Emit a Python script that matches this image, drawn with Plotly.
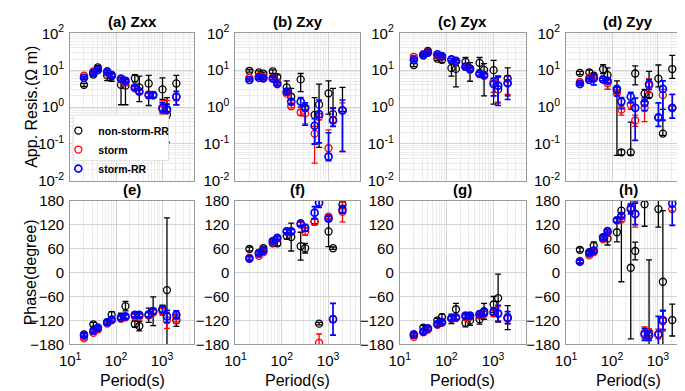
import math
import plotly.graph_objects as go

# ---------------- data ----------------
periods = [20, 32, 40, 64, 80, 128, 160, 256, 320, 512, 640, 1024, 1280, 2048]
series_names = ["non-storm-RR", "storm", "storm-RR"]
series_colors = ["#000000", "#ff0000", "#0000ff"]

# (a) Zxx apparent resistivity
zxx_rho_ns    = [4.0, 7.6, 11.9, 7.2, 6.8, 4.0, 3.8, 6.0, 3.4, 4.35, 2.1, 3.0, 0.62, 4.35]
zxx_rho_ns_lo = [3.6, 6.8, 10.5, 5.2, 5.0, 1.15, 1.15, 4.8, 1.4, 1.1, 1.8, 1.6, 0.5, 1.15]
zxx_rho_ns_hi = [4.4, 8.4, 13.3, 9.2, 8.5, 6.2, 6.2, 7.5, 6.9, 7.2, 2.5, 6.2, 1.8, 7.2]
zxx_rho_st    = [7.1, 9.2, 10.2, 8.5, 7.5, 5.6, 4.6, 3.2, 2.6, 2.2, 2.1, 0.85, 0.8, 1.9]
zxx_rho_st_lo = [6.5, 8.5, 9.4, 7.8, 6.8, 5.1, 4.2, 2.9, 2.3, 1.9, 1.8, 0.62, 0.5, 1.5]
zxx_rho_st_hi = [7.7, 9.9, 11.0, 9.2, 8.2, 6.1, 5.0, 3.5, 2.9, 2.5, 2.4, 1.47, 1.5, 2.3]
zxx_rho_sr    = [6.2, 8.4, 10.2, 9.2, 7.2, 5.9, 5.1, 3.4, 2.65, 2.1, 2.1, 0.95, 0.86, 1.9]
zxx_rho_sr_lo = [5.7, 7.7, 9.4, 8.4, 6.5, 5.4, 4.6, 3.0, 2.3, 1.8, 1.8, 0.7, 0.11, 1.15]
zxx_rho_sr_hi = [6.7, 9.1, 11.0, 10.0, 7.9, 6.4, 5.6, 3.8, 3.0, 2.4, 2.5, 1.3, 1.2, 2.65]

# (b) Zxy apparent resistivity
zxy_rho_ns    = [9.6, 8.7, 8.0, 9.2, 6.5, 3.4, 1.9, 5.6, 0.95, 0.61, 1.16, 2.35, 0.64, 0.81]
zxy_rho_ns_lo = [8.8, 7.9, 7.2, 8.2, 5.6, 2.6, 1.16, 2.6, 0.85, 0.1, 0.08, 0.64, 0.3, 0.75]
zxy_rho_ns_hi = [10.4, 9.5, 8.8, 10.2, 7.4, 5.1, 3.2, 8.1, 1.05, 1.8, 4.2, 5.1, 3.2, 3.4]
zxy_rho_st    = [6.2, 6.9, 6.5, 6.2, 4.6, 2.3, 1.05, 0.71, 0.67, 0.19, 0.55, 0.076, 0.45, 0.81]
zxy_rho_st_lo = [5.7, 6.3, 6.0, 5.7, 4.2, 2.1, 0.95, 0.6, 0.35, 0.03, 0.45, 0.055, 0.38, 0.062]
zxy_rho_st_hi = [6.7, 7.5, 7.0, 6.7, 5.0, 2.5, 1.15, 0.85, 0.86, 0.3, 0.65, 0.24, 0.9, 1.3]
zxy_rho_sr    = [5.4, 6.2, 6.0, 5.9, 4.2, 2.6, 1.4, 1.4, 0.95, 0.31, 0.64, 0.045, 0.43, 0.81]
zxy_rho_sr_lo = [5.0, 5.7, 5.5, 5.4, 3.8, 2.3, 1.2, 1.0, 0.32, 0.098, 0.107, 0.035, 0.3, 0.062]
zxy_rho_sr_hi = [5.8, 6.7, 6.5, 6.4, 4.6, 2.9, 1.6, 1.8, 1.3, 0.48, 1.55, 0.2, 0.95, 1.55]

# (c) Zyx apparent resistivity
zyx_rho_ns    = [13.7, 25, 33, 20.4, 19, 11.3, 10.8, 16.8, 11.2, 15.8, 10.2, 10.0, 3.0, 5.9]
zyx_rho_ns_lo = [12.5, 23, 30, 18.5, 16, 6.9, 3.5, 12, 5.0, 10, 2.0, 1.2, 1.3, 2.0]
zyx_rho_ns_hi = [15, 27, 36, 22, 22, 15, 13.5, 22, 16, 22, 15, 18.5, 7, 11.5]
zyx_rho_st    = [23, 27, 31, 25, 23, 19, 17, 12.2, 10.2, 7.8, 7.0, 4.8, 3.8, 4.6]
zyx_rho_st_lo = [21, 25, 28.5, 23, 21, 17.5, 15.5, 11, 9.3, 7.0, 6.3, 2.5, 1.35, 2.2]
zyx_rho_st_hi = [25, 29, 33.5, 27, 25, 20.5, 18.5, 13.4, 11.1, 8.6, 7.7, 6.0, 6.5, 7.0]
zyx_rho_sr    = [19, 26, 30, 27, 24, 19.5, 17.8, 12.4, 10.8, 8.0, 7.3, 4.2, 3.8, 4.4]
zyx_rho_sr_lo = [17.5, 24, 27.5, 25, 22, 18, 16.3, 11.3, 9.9, 7.2, 6.5, 2.0, 1.1, 1.6]
zyx_rho_sr_hi = [20.5, 28, 32.5, 29, 26, 21, 19.3, 13.5, 11.7, 8.8, 8.1, 6.0, 6.6, 7.0]

# (d) Zyy apparent resistivity
zyy_rho_ns    = [8.4, 8.7, 7.1, 10.6, 7.3, 2.8, 0.059, 0.059, 8.1, 2.3, 2.1, 5.9, 0.19, 10.7]
zyy_rho_ns_lo = [7.6, 7.5, 6.0, 8.0, 3.0, 0.049, 0.05, 0.05, 4.0, 1.4, 1.8, 3.5, 0.17, 6.0]
zyy_rho_ns_hi = [9.2, 10.0, 8.2, 14.0, 11.5, 5.1, 0.07, 0.39, 13.0, 3.0, 9.3, 13.8, 0.86, 25.0]
zyy_rho_st    = [4.7, 6.2, 6.5, 5.6, 4.4, 2.4, 0.85, 1.16, 0.43, 0.95, 3.8, 0.52, 2.1, 0.95]
zyy_rho_st_lo = [4.3, 5.6, 5.9, 5.1, 3.0, 2.1, 0.6, 0.87, 0.3, 0.4, 2.5, 0.45, 0.45, 0.85]
zyy_rho_st_hi = [5.1, 6.8, 7.1, 6.1, 5.4, 2.7, 1.1, 1.4, 0.6, 1.6, 5.8, 0.6, 3.0, 1.05]
zyy_rho_sr    = [4.2, 5.4, 6.0, 5.6, 5.1, 3.1, 1.4, 1.9, 0.95, 1.3, 4.2, 0.52, 3.1, 0.95]
zyy_rho_sr_lo = [3.9, 4.9, 4.0, 5.1, 4.5, 2.0, 0.9, 1.3, 0.125, 0.8, 3.0, 0.3, 0.43, 0.5]
zyy_rho_sr_hi = [4.5, 5.9, 8.0, 6.1, 5.7, 3.5, 1.8, 2.5, 1.75, 1.8, 5.5, 1.3, 5.1, 2.2]

# (e) Zxx phase
zxx_ph_ns    = [-155, -130, -142, -124, -106, -112, -84, -129, -134, -107, -97, -92, -44, -120]
zxx_ph_ns_e  = [4, 5, 5, 5, 8, 10, 12, 8, 12, 18, 36, 10, 181, 15]
zxx_ph_st    = [-165, -151, -142, -128, -120, -116, -112, -110, -110, -107, -100, -97, -120, -116]
zxx_ph_st_e  = [4, 4, 4, 4, 4, 5, 5, 5, 5, 6, 6, 10, 20, 12]
zxx_ph_sr    = [-157, -146, -138, -125, -118, -113, -110, -106, -106, -105, -97, -92, -110, -106]
zxx_ph_sr_e  = [4, 4, 4, 4, 4, 5, 5, 5, 5, 6, 6, 8, 15, 10]

# (f) Zxy phase
zxy_ph_ns    = [59, 49, 61, 73, 73, 92, 89, 66, 61, 128, -128, 103, 61, 170]
zxy_ph_ns_e  = [5, 4, 5, 5, 6, 8, 35, 35, 12, 6, 3, 38, 3, 8]
zxy_ph_st    = [37, 42, 51, 75, 85, 103, 103, 120, 103, 127, -176, 140, -117, 152]
zxy_ph_st_e  = [4, 4, 4, 4, 4, 5, 5, 6, 10, 8, 22, 5, 8, 25]
zxy_ph_sr    = [35, 49, 55, 79, 87, 103, 103, 123, 112, 150, 175, 135, -117, 158]
zxy_ph_sr_e  = [4, 4, 4, 4, 4, 5, 5, 6, 8, 15, 12, 6, 40, 10]

# (g) Zyx phase
zyx_ph_ns    = [-157, -138, -141, -120, -112, -116, -92, -126, -120, -117, -97, -80, -64, -113]
zyx_ph_ns_e  = [4, 5, 5, 5, 8, 12, 15, 10, 12, 12, 20, 20, 60, 30]
zyx_ph_st    = [-161, -150, -143, -131, -126, -116, -114, -112, -110, -108, -104, -102, -104, -116]
zyx_ph_st_e  = [4, 4, 4, 4, 4, 5, 5, 5, 5, 6, 6, 8, 18, 12]
zyx_ph_sr    = [-155, -148, -140, -129, -124, -114, -112, -108, -108, -104, -100, -98, -102, -113]
zyx_ph_sr_e  = [4, 4, 4, 4, 4, 5, 5, 5, 5, 6, 8, 8, 20, 15]

# (h) Zyy phase
zyy_ph_ns    = [57, 51, 67, 89, 85, 101, 155, 12, 54, 171, -150, 159, -23, -119]
zyy_ph_ns_e  = [5, 5, 10, 5, 16, 24, 178, 178, 22, 55, 182, 45, 178, 40]
zyy_ph_st    = [29, 43, 51, 83, 99, 131, 133, 163, 146, -151, -151, -154, -122, 159]
zyy_ph_st_e  = [4, 4, 4, 4, 4, 5, 5, 10, 32, 15, 10, 12, 25, 5]
zyy_ph_sr    = [27, 49, 55, 87, 104, 131, 142, 159, 147, -155, -158, -155, -119, 173]
zyy_ph_sr_e  = [4, 4, 4, 4, 4, 5, 5, 12, 27, 15, 12, 45, 24, 55]

top_titles = ["(a) Zxx", "(b) Zxy", "(c) Zyx", "(d) Zyy"]
bottom_titles = ["(e)", "(f)", "(g)", "(h)"]
x_tickvals = [10, 100, 1000]
x_ticktext = ["10<sup>1</sup>", "10<sup>2</sup>", "10<sup>3</sup>"]
rho_tickvals = [0.01, 0.1, 1, 10, 100]
rho_ticktext = ["10<sup>-2</sup>", "10<sup>-1</sup>", "10<sup>0</sup>", "10<sup>1</sup>", "10<sup>2</sup>"]
ph_tickvals = [-180, -120, -60, 0, 60, 120, 180]

rho_panels = [
    [(zxx_rho_ns, zxx_rho_ns_lo, zxx_rho_ns_hi), (zxx_rho_st, zxx_rho_st_lo, zxx_rho_st_hi), (zxx_rho_sr, zxx_rho_sr_lo, zxx_rho_sr_hi)],
    [(zxy_rho_ns, zxy_rho_ns_lo, zxy_rho_ns_hi), (zxy_rho_st, zxy_rho_st_lo, zxy_rho_st_hi), (zxy_rho_sr, zxy_rho_sr_lo, zxy_rho_sr_hi)],
    [(zyx_rho_ns, zyx_rho_ns_lo, zyx_rho_ns_hi), (zyx_rho_st, zyx_rho_st_lo, zyx_rho_st_hi), (zyx_rho_sr, zyx_rho_sr_lo, zyx_rho_sr_hi)],
    [(zyy_rho_ns, zyy_rho_ns_lo, zyy_rho_ns_hi), (zyy_rho_st, zyy_rho_st_lo, zyy_rho_st_hi), (zyy_rho_sr, zyy_rho_sr_lo, zyy_rho_sr_hi)],
]
ph_panels = [
    [(zxx_ph_ns, zxx_ph_ns_e), (zxx_ph_st, zxx_ph_st_e), (zxx_ph_sr, zxx_ph_sr_e)],
    [(zxy_ph_ns, zxy_ph_ns_e), (zxy_ph_st, zxy_ph_st_e), (zxy_ph_sr, zxy_ph_sr_e)],
    [(zyx_ph_ns, zyx_ph_ns_e), (zyx_ph_st, zyx_ph_st_e), (zyx_ph_sr, zyx_ph_sr_e)],
    [(zyy_ph_ns, zyy_ph_ns_e), (zyy_ph_st, zyy_ph_st_e), (zyy_ph_sr, zyy_ph_sr_e)],
]

# ---------------- layout geometry ----------------
W, H = 685, 391
FONT = "Liberation Sans, Arial, Helvetica, sans-serif"
col_px = [(52, 178), (220, 347), (387, 515), (556, 682)]
top_px = (15, 170)
bot_px = (191, 342)

def fx(p):
    return p / W

def fy(p):
    return 1 - p / H

major = "#d4d4d4"
minorc = "#ebebeb"
frame = "#9a9a9a"
minor_x = [m * d for d in (10, 100, 1000) for m in range(2, 10) if m * d <= 5000]
minor_y = [m * d for d in (0.01, 0.1, 1, 10) for m in range(2, 10)]
line_w = [1.3, 1.3, 1.7]
TICK = dict(family=FONT, size=15, color="#000000")

fig = go.Figure()
layout = dict(
    width=W, height=H, margin=dict(l=0, r=0, t=0, b=0),
    paper_bgcolor="white", plot_bgcolor="white",
    font=dict(family=FONT, size=13, color="#000000"),
    showlegend=True,
    legend=dict(x=fx(40), y=fy(102), xanchor="left", yanchor="top",
                bgcolor="rgba(0,0,0,0)", borderwidth=0,
                font=dict(family=FONT, size=10.5, color="#000000", weight="bold"),
                tracegroupgap=0, itemwidth=30),
    shapes=[dict(type="rect", xref="paper", yref="paper",
                 x0=fx(55), x1=fx(152), y0=fy(149), y1=fy(101),
                 fillcolor="white", line=dict(color="#dddddd", width=1),
                 layer="above")],
)
annotations = []

for c in range(4):
    xi = c + 1
    xa = "x" if xi == 1 else f"x{xi}"
    ya = "y" if xi == 1 else f"y{xi}"
    for s in range(3):
        v, lo, hi = rho_panels[c][s]
        fig.add_trace(go.Scatter(
            x=periods, y=v, mode="markers", name=series_names[s],
            legendgroup=series_names[s], showlegend=(c == 0),
            xaxis=xa, yaxis=ya,
            marker=dict(symbol="circle-open", size=7, color=series_colors[s],
                        line=dict(width=line_w[s], color=series_colors[s])),
            error_y=dict(type="data", symmetric=False,
                         array=[h - a for h, a in zip(hi, v)],
                         arrayminus=[a - l for a, l in zip(v, lo)],
                         color=series_colors[s], thickness=line_w[s], width=3),
        ))
    xi2 = c + 5
    xb = f"x{xi2}"
    yb = f"y{xi2}"
    for s in range(3):
        v, e = ph_panels[c][s]
        fig.add_trace(go.Scatter(
            x=periods, y=v, mode="markers", name=series_names[s],
            legendgroup=series_names[s], showlegend=False,
            xaxis=xb, yaxis=yb,
            marker=dict(symbol="circle-open", size=7, color=series_colors[s],
                        line=dict(width=line_w[s], color=series_colors[s])),
            error_y=dict(type="data", array=e, color=series_colors[s],
                         thickness=line_w[s], width=3),
        ))

    dom_x = [fx(col_px[c][0]), fx(col_px[c][1])]
    common_x = dict(
        type="log", range=[1, math.log10(5000)], domain=dom_x,
        showgrid=True, gridcolor=major, gridwidth=1,
        minor=dict(tickmode="array", tickvals=minor_x, showgrid=True,
                   gridcolor=minorc, gridwidth=1, ticks=""),
        showline=True, mirror=True, linecolor=frame, linewidth=1,
        zeroline=False, tickmode="array", tickvals=x_tickvals, ticktext=x_ticktext,
        ticks="", tickfont=TICK,
    )
    layout["xaxis" if xi == 1 else f"xaxis{xi}"] = dict(
        common_x, anchor=ya, showticklabels=False)
    layout[f"xaxis{xi2}"] = dict(common_x, anchor=yb, showticklabels=True,
                                 ticklabelstandoff=3)

    layout["yaxis" if xi == 1 else f"yaxis{xi}"] = dict(
        type="log", range=[-2, 2], domain=[fy(top_px[1]), fy(top_px[0])],
        anchor=xa, showgrid=True, gridcolor=major, gridwidth=1,
        minor=dict(tickmode="array", tickvals=minor_y, showgrid=True,
                   gridcolor=minorc, gridwidth=1, ticks=""),
        showline=True, mirror=True, linecolor=frame, linewidth=1, zeroline=False,
        tickmode="array", tickvals=rho_tickvals, ticktext=rho_ticktext, ticks="",
        tickfont=TICK, ticklabelstandoff=2,
    )
    layout[f"yaxis{xi2}"] = dict(
        range=[-180, 180], domain=[fy(bot_px[1]), fy(bot_px[0])],
        anchor=xb, showgrid=True, gridcolor=major, gridwidth=1,
        showline=True, mirror=True, linecolor=frame, linewidth=1, zeroline=False,
        tickmode="array", tickvals=ph_tickvals, ticks="",
        tickfont=TICK, ticklabelstandoff=2,
    )

    cx = fx((col_px[c][0] + col_px[c][1]) / 2)
    annotations.append(dict(text=f"<b>{top_titles[c]}</b>", x=cx, y=fy(top_px[0] - 1),
                            xref="paper", yref="paper", xanchor="center", yanchor="bottom",
                            showarrow=False, font=dict(family=FONT, size=15, color="#000000")))
    annotations.append(dict(text=f"<b>{bottom_titles[c]}</b>", x=cx, y=fy(bot_px[0] - 1),
                            xref="paper", yref="paper", xanchor="center", yanchor="bottom",
                            showarrow=False, font=dict(family=FONT, size=15, color="#000000")))
    annotations.append(dict(text="Period(s)", x=cx, y=fy(391), xref="paper", yref="paper",
                            xanchor="center", yanchor="bottom", showarrow=False,
                            font=dict(family=FONT, size=16, color="#000000")))

annotations.append(dict(text="App. Resis.(\u03a9 m)", x=fx(12), y=fy((top_px[0] + top_px[1]) / 2),
                        xref="paper", yref="paper", xanchor="center", yanchor="middle",
                        textangle=-90, showarrow=False, borderpad=0,
                        font=dict(family=FONT, size=16, color="#000000")))
annotations.append(dict(text="Phase(degree)", x=fx(12), y=fy((bot_px[0] + bot_px[1]) / 2),
                        xref="paper", yref="paper", xanchor="center", yanchor="middle",
                        textangle=-90, showarrow=False, borderpad=0,
                        font=dict(family=FONT, size=16, color="#000000")))
layout["annotations"] = annotations
fig.update_layout(**layout)
fig.write_html("out.html")
